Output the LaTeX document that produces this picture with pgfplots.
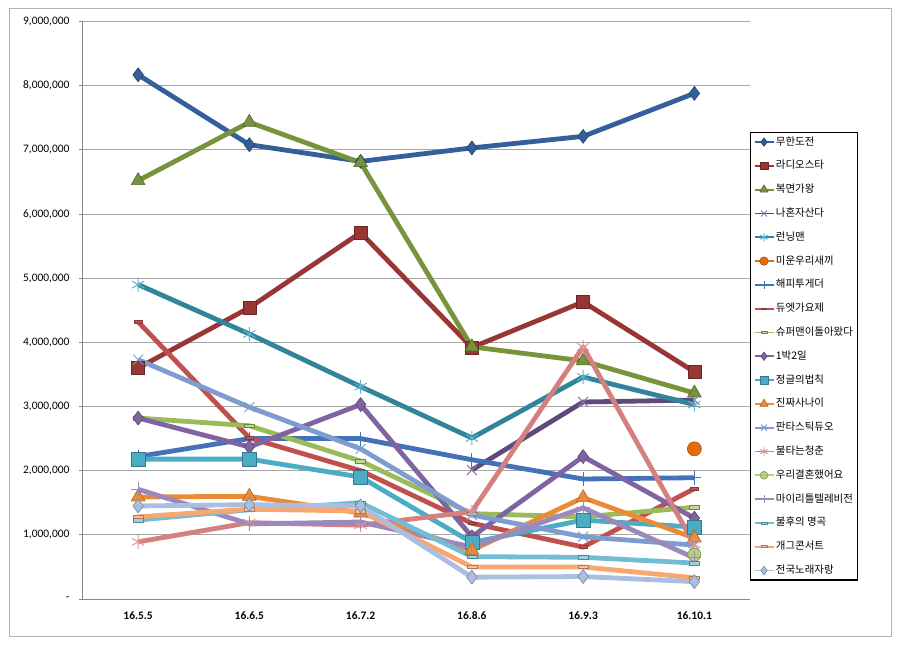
\documentclass[border=0pt]{standalone}
\usepackage{pgfplots}
\pgfplotsset{compat=1.18}
\usepackage{fontspec}
\setmainfont{Carlito}
\newfontfamily\kr{Noto Sans CJK KR}
\definecolor{c1}{HTML}{33609B}
\definecolor{c2}{HTML}{983634}
\definecolor{c3}{HTML}{77933C}
\definecolor{c4}{HTML}{5F4A7B}
\definecolor{c4m}{HTML}{8C78B0}
\definecolor{c5}{HTML}{31849B}
\definecolor{c5m}{HTML}{5BB5CF}
\definecolor{c6}{HTML}{E46C0A}
\definecolor{c7}{HTML}{4472B8}
\definecolor{c8}{HTML}{C0504D}
\definecolor{c9}{HTML}{9BBB59}
\definecolor{c10}{HTML}{8064A2}
\definecolor{c11}{HTML}{4BACC6}
\definecolor{c12}{HTML}{EB8A37}
\definecolor{c13}{HTML}{7F9CD1}
\definecolor{c14}{HTML}{D4807E}
\definecolor{c15}{HTML}{B5D07A}
\definecolor{c16}{HTML}{9D88BD}
\definecolor{c17}{HTML}{72BDD4}
\definecolor{c18}{HTML}{F9A770}
\definecolor{c19}{HTML}{AABEDF}
\definecolor{gridc}{HTML}{A6A6A6}
\definecolor{axc}{HTML}{868686}
\begin{document}
\begin{tikzpicture}
\fill[white] (0bp,0bp) rectangle (900bp,645bp);
\draw[gray!60, line width=1bp] (9bp,8bp) rectangle (891bp,636bp);
\begin{axis}[
  at={(82.5bp,46bp)}, anchor=south west,
  scale only axis, width=667.5bp, height=577.5bp,
  xmin=-0.5, xmax=5.5, ymin=0, ymax=9000000,
  axis x line*=bottom, axis y line*=left,
  axis line style={draw=axc, line width=0.8bp},
  ymajorgrids, grid style={draw=gridc, line width=0.8bp},
  tick align=outside,
  scaled y ticks=false,
  xtick={0,1,2,3,4,5},
  xticklabels={16.5.5,16.6.5,16.7.2,16.8.6,16.9.3,16.10.1},
  x tick style={draw=none},
  extra x ticks={-0.5,0.5,1.5,2.5,3.5,4.5,5.5},
  extra x tick labels={},
  extra x tick style={major tick length=4bp, tick style={draw=axc, line width=0.8bp}, grid=none},
  ytick={0,1000000,...,9000000},
  yticklabels={-,{1,000,000},{2,000,000},{3,000,000},{4,000,000},{5,000,000},{6,000,000},{7,000,000},{8,000,000},{9,000,000}},
  y tick style={draw=axc, line width=0.8bp},
  major tick length=3.5bp,
  yticklabel style={font=\fontsize{11.5}{13}\selectfont, xshift=-6bp},
  xticklabel style={font=\bfseries\fontsize{11.5}{13}\selectfont, yshift=-6bp},
  clip=false,
  every axis plot/.append style={line width=4.8bp, line join=round},
  legend style={at={(1,0.8087)}, anchor=north west, draw=black, line width=1.2bp,
    font=\kr\fontsize{10.5}{12}\selectfont, inner xsep=3bp, inner ysep=3bp,
    row sep=10.8bp, nodes={inner sep=1.5bp, text height=8bp, text depth=2bp}},
  legend cell align=left,
  legend image code/.code={
    \draw[mark repeat=2,mark phase=2,#1,line width=1.8bp,/tikz/every mark/.append style={scale=0.6}]
      plot coordinates {(0bp,0bp) (9.5bp,0bp) (19bp,0bp)};
  },
]
\addplot[color=c1, mark=diamond*, mark size=7bp, mark options={fill=c1, draw=c1!70!black, line width=0.6bp}]
  coordinates {(0,8170000) (1,7080000) (2,6820000) (3,7030000) (4,7210000) (5,7880000)};
\addlegendentry{무한도전}
\addplot[color=c2, mark=square*, mark size=6.5bp, mark options={fill=c2, draw=c2!70!black, line width=0.6bp}]
  coordinates {(0,3600000) (1,4540000) (2,5710000) (3,3920000) (4,4630000) (5,3540000)};
\addlegendentry{라디오스타}
\addplot[color=c3, mark=triangle*, mark size=8bp, mark options={fill=c3, draw=c3!70!black, line width=0.6bp}]
  coordinates {(0,6520000) (1,7430000) (2,6800000) (3,3930000) (4,3710000) (5,3210000)};
\addlegendentry{복면가왕}
\addplot[color=c4, mark=x, mark size=7bp, mark options={draw=c4m, line width=1bp}]
  coordinates {(3,2010000) (4,3070000) (5,3100000)};
\addlegendentry{나혼자산다}
\addplot[color=c5, mark=asterisk, mark size=7bp, mark options={draw=c5m, line width=1bp}]
  coordinates {(0,4900000) (1,4130000) (2,3310000) (3,2510000) (4,3460000) (5,3030000)};
\addlegendentry{런닝맨}
\addplot[color=c6, mark=*, mark size=7bp, mark options={fill=c6, draw=c6!75!black, line width=0.6bp}]
  coordinates {(5,2340000)};
\addlegendentry{미운우리새끼}
\addplot[color=c7, mark=+, mark size=7bp, mark options={draw=c7, line width=1bp}]
  coordinates {(0,2220000) (1,2500000) (2,2500000) (3,2170000) (4,1870000) (5,1890000)};
\addlegendentry{해피투게더}
\addplot[color=c8, mark=square*, mark size=4bp, mark options={yscale=0.35, fill=c8, draw=c8!70!black, line width=0.5bp}]
  coordinates {(0,4320000) (1,2510000) (2,2000000) (3,1180000) (4,810000) (5,1720000)};
\addlegendentry{듀엣가요제}
\addplot[color=c9, mark=square*, mark size=5bp, mark options={yscale=0.35, fill=c9!60!white, draw=c9!70!black, line width=0.5bp}]
  coordinates {(0,2820000) (1,2700000) (2,2150000) (3,1330000) (4,1280000) (5,1430000)};
\addlegendentry{슈퍼맨이돌아왔다}
\addplot[color=c10, mark=diamond*, mark size=7bp, mark options={fill=c10, draw=c10!70!black, line width=0.6bp}]
  coordinates {(0,2820000) (1,2370000) (2,3030000) (3,970000) (4,2220000) (5,1260000)};
\addlegendentry{1박2일}
\addplot[color=c11, mark=square*, mark size=7bp, mark options={fill=c11, draw=c11!70!black, line width=0.6bp}]
  coordinates {(0,2180000) (1,2180000) (2,1900000) (3,880000) (4,1230000) (5,1120000)};
\addlegendentry{정글의법칙}
\addplot[color=c12, mark=triangle*, mark size=8bp, mark options={fill=c12, draw=c12!75!black, line width=0.6bp}]
  coordinates {(0,1590000) (1,1600000) (2,1340000) (3,760000) (4,1580000) (5,950000)};
\addlegendentry{진짜사나이}
\addplot[color=c13, mark=x, mark size=7bp, mark options={draw=c13, line width=1bp}]
  coordinates {(0,3730000) (1,2990000) (2,2340000) (3,1310000) (4,970000) (5,840000)};
\addlegendentry{판타스틱듀오}
\addplot[color=c14, mark=asterisk, mark size=7bp, mark options={draw=c14!80!white, line width=1bp}]
  coordinates {(0,890000) (1,1190000) (2,1150000) (3,1360000) (4,3930000) (5,850000)};
\addlegendentry{불타는청춘}
\addplot[color=c15, mark=*, mark size=6.5bp, mark options={fill=c15, draw=c15!70!black, line width=0.6bp}]
  coordinates {(5,690000)};
\addlegendentry{우리결혼했어요}
\addplot[color=c16, mark=+, mark size=7bp, mark options={draw=c16, line width=1bp}]
  coordinates {(0,1710000) (1,1170000) (2,1200000) (3,810000) (4,1420000) (5,640000)};
\addlegendentry{마이리틀텔레비전}
\addplot[color=c17, mark=square*, mark size=5bp, mark options={yscale=0.35, fill=c17!70!white, draw=c17!70!black, line width=0.5bp}]
  coordinates {(0,1230000) (1,1390000) (2,1500000) (3,660000) (4,650000) (5,560000)};
\addlegendentry{불후의 명곡}
\addplot[color=c18, mark=square*, mark size=5bp, mark options={yscale=0.35, fill=c18!70!white, draw=c18!70!black, line width=0.5bp}]
  coordinates {(0,1280000) (1,1400000) (2,1370000) (3,500000) (4,500000) (5,330000)};
\addlegendentry{개그콘서트}
\addplot[color=c19, mark=diamond*, mark size=7bp, mark options={fill=c19, draw=c19!70!black, line width=0.6bp}]
  coordinates {(0,1450000) (1,1470000) (2,1450000) (3,340000) (4,350000) (5,270000)};
\addlegendentry{전국노래자랑}
\end{axis}
\pgfresetboundingbox
\useasboundingbox (0bp,0bp) rectangle (900bp,645bp);
\end{tikzpicture}
\end{document}
